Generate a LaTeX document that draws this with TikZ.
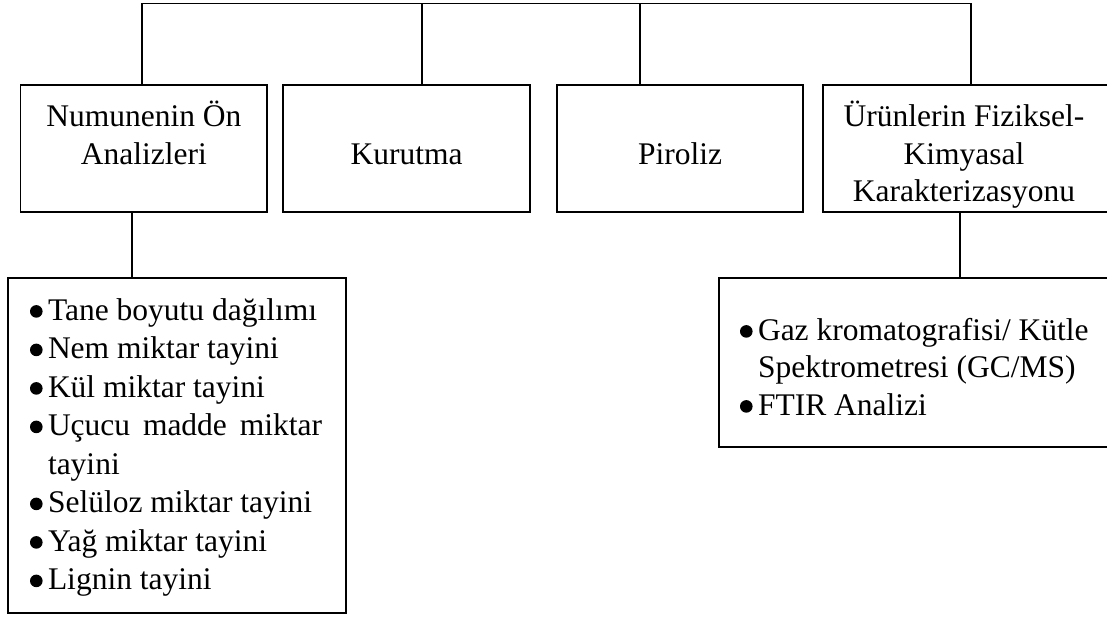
\documentclass[tikz,border=0pt]{standalone}
\usepackage{fontspec}
\setmainfont{Liberation Serif}
\newcommand\bul{\tikz[baseline={(0,0)},x=1pt,y=1pt,scale=1]{\useasboundingbox (0,0) rectangle (12.6,1);\fill[black] (6.3,8.6) circle[radius=6.3];}}
\begin{document}
\begin{tikzpicture}[x=1pt,y=-1pt,
  box/.style={draw=black,line width=1.5pt,inner sep=0pt,outer sep=0pt,anchor=north west},
  conn/.style={draw=black,line width=1.5pt},
  txt/.style={inner sep=0pt,outer sep=0pt,anchor=base,font=\fontsize{31.5pt}{37.5pt}\selectfont},
  lst/.style={inner sep=0pt,outer sep=0pt,anchor=base west,font=\fontsize{31.5pt}{38.5pt}\selectfont}]
\useasboundingbox (0,0) rectangle (1107,617);
% upper boxes
\node[box,minimum width=246.3pt,minimum height=127pt] (b1) at (20.7,85) {};
\node[box,minimum width=247pt,minimum height=127pt] (b2) at (283,85) {};
\node[box,minimum width=246pt,minimum height=127pt] (b3) at (557,85) {};
\node[box,minimum width=300pt,minimum height=127pt] (b4) at (823,85) {};
% lower boxes
\node[box,minimum width=338pt,minimum height=335pt] (l1) at (8,278) {};
\node[box,minimum width=420pt,minimum height=169pt] (l4) at (719,278) {};
% texts
\node[txt] (t1) at (143.9,127) {\begin{tabular}[t]{@{}c@{}}Numunenin Ön\\Analizleri\end{tabular}};
\node[txt] (t2) at (406.5,164.5) {Kurutma};
\node[txt] (t3) at (680,164.5) {Piroliz};
\node[txt] (t4) at (964,127) {\begin{tabular}[t]{@{}c@{}}Ürünlerin Fiziksel-\\Kimyasal\\Karakterizasyonu\end{tabular}};
\node[lst] (s1) at (30,320) {\begin{tabular}[t]{@{}l@{\hspace{5.4pt}}l@{}}
\bul&Tane boyutu dağılımı\\
\bul&Nem miktar tayini\\
\bul&Kül miktar tayini\\
\bul&\makebox[274pt][s]{Uçucu madde miktar}\\
&tayini\\
\bul&Selüloz miktar tayini\\
\bul&Yağ miktar tayini\\
\bul&Lignin tayini
\end{tabular}};
\node[lst,font=\fontsize{31.5pt}{37.5pt}\selectfont] (s4) at (740,340) {\begin{tabular}[t]{@{}l@{\hspace{5.4pt}}l@{}}
\bul&Gaz kromatografisi/ Kütle\\
&Spektrometresi (GC/MS)\\
\bul&FTIR Analizi
\end{tabular}};
% connectors
\coordinate (j1) at (142,3.5);
\coordinate (j2) at (422,3.5);
\coordinate (j3) at (640,3.5);
\coordinate (j4) at (971,3.5);
\draw[conn] (j1 |- b1.north) -- (j1) -- (j4) -- (j4 |- b4.north);
\draw[conn] (j2) -- (j2 |- b2.north);
\draw[conn] (j3) -- (j3 |- b3.north);
\coordinate (d1) at (132,0);
\coordinate (d4) at (960,0);
\draw[conn] (d1 |- b1.south) -- (d1 |- l1.north);
\draw[conn] (d4 |- b4.south) -- (d4 |- l4.north);
\end{tikzpicture}
\end{document}
